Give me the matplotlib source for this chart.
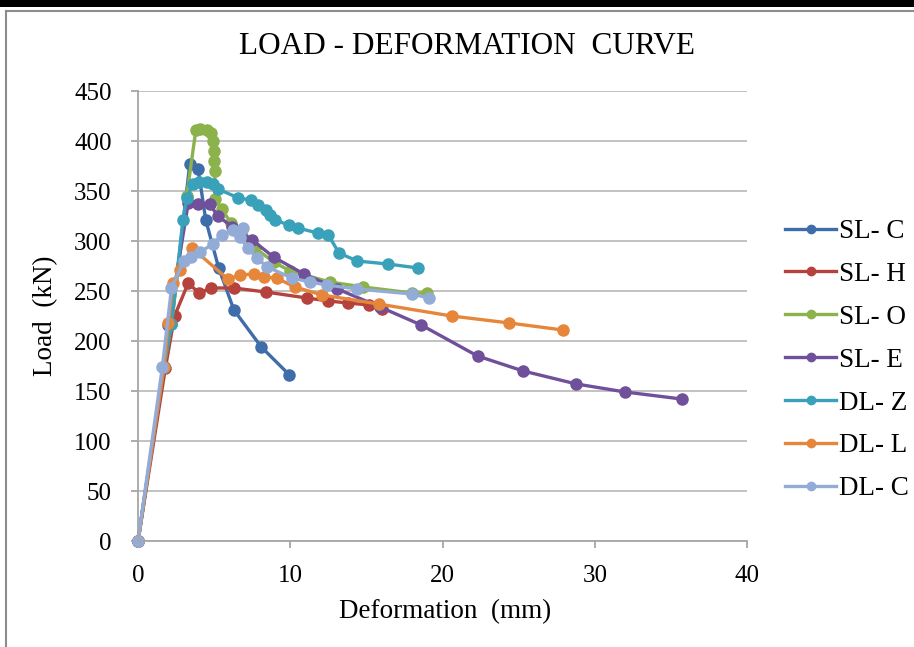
import matplotlib
matplotlib.use('Agg')
import matplotlib.pyplot as plt
from matplotlib.lines import Line2D
from matplotlib.patches import Rectangle

plt.rcParams['font.family'] = ['Liberation Serif', 'DejaVu Serif']

# 各试件的荷载-变形数据 (mm, kN)
series_names = ['SL- C', 'SL- H', 'SL- O', 'SL- E', 'DL- Z', 'DL- L', 'DL- C']

sl_c_x = [0, 1.7, 2.2, 3.4, 3.95, 4.45, 5.3, 6.3, 8.1, 9.95]
sl_c_y = [0, 174, 217, 377, 372, 321, 273, 231, 194, 166]

sl_h_x = [0, 1.8, 2.4, 3.3, 4.0, 4.8, 6.3, 8.4, 11.1, 12.5, 13.8, 15.2, 16.0]
sl_h_y = [0, 173, 225, 258, 248, 253, 253, 249, 243, 240, 238, 236, 232]

sl_o_x = [0, 1.7, 2.2, 3.2, 3.8, 4.1, 4.5, 4.8, 4.9, 5.0, 5.0, 5.05, 5.05,
          5.5, 6.1, 6.8, 7.7, 8.9, 10.0, 12.6, 14.8, 18.0, 19.0]
sl_o_y = [0, 174, 217, 345, 411, 412, 411, 408, 400, 390, 380, 370, 342,
          332, 318, 305, 293, 279, 270, 259, 254, 248, 248]

sl_e_x = [0, 1.7, 2.0, 3.3, 3.95, 4.7, 5.25, 6.2, 7.5, 8.9, 10.9, 13.1, 15.9,
          18.6, 22.3, 25.3, 28.8, 32.0, 35.7]
sl_e_y = [0, 174, 216, 338, 337, 337, 325, 314, 301, 284, 267, 252, 234,
          216, 185, 170, 157, 149, 142]

dl_z_x = [0, 1.7, 2.2, 2.95, 3.2, 3.6, 4.0, 4.5, 4.9, 5.25, 6.6, 7.4, 7.9, 8.4,
          8.7, 9.0, 9.9, 10.5, 11.8, 12.5, 13.2, 14.4, 16.4, 18.4]
dl_z_y = [0, 174, 217, 321, 343, 357, 359, 359, 357, 352, 343, 341, 336, 331,
          326, 321, 316, 313, 308, 306, 288, 280, 277, 273]

dl_l_x = [0, 1.7, 2.0, 2.3, 2.75, 3.55, 5.9, 6.7, 7.6, 8.3, 9.1, 10.3, 12.1,
          15.8, 20.6, 24.4, 27.9]
dl_l_y = [0, 174, 218, 258, 271, 293, 262, 266, 267, 264, 263, 254, 246,
          237, 225, 218, 211]

dl_c_x = [0, 1.6, 2.2, 3.0, 3.5, 4.1, 4.9, 5.5, 6.25, 6.9, 6.7, 7.2, 7.8, 8.5,
          10.1, 11.3, 12.4, 14.4, 18.0, 19.1]
dl_c_y = [0, 174, 253, 280, 284, 289, 297, 306, 311, 313, 304, 293, 283, 274,
          263, 259, 256, 252, 247, 243]

xs = [sl_c_x, sl_h_x, sl_o_x, sl_e_x, dl_z_x, dl_l_x, dl_c_x]
ys = [sl_c_y, sl_h_y, sl_o_y, sl_e_y, dl_z_y, dl_l_y, dl_c_y]
colors = ['#3F6DAA', '#B5423D', '#8CB24B', '#70509A', '#3AA1BB', '#E6863A', '#93ACD7']

fig = plt.figure(figsize=(9.14, 6.47), dpi=100)

# 顶部黑条和图表外框
fig.patches.append(Rectangle((0, 1 - 7 / 647), 1, 7 / 647, transform=fig.transFigure,
                             facecolor='black', edgecolor='none'))
fig.lines.append(Line2D([6 / 914, 6 / 914], [0, 1 - 11 / 647], transform=fig.transFigure,
                        color='#8C8C8C', lw=1.5))
fig.lines.append(Line2D([6 / 914, 1], [1 - 11 / 647, 1 - 11 / 647], transform=fig.transFigure,
                        color='#8C8C8C', lw=1.5))

ax = fig.add_axes([138 / 914, 1 - 541 / 647, (747 - 138) / 914, (541 - 91) / 647])

for name, x, y, c in zip(series_names, xs, ys, colors):
    ax.plot(x, y, color=c, lw=2.4, marker='o', markersize=8, label=name,
            solid_joinstyle='round', clip_on=False)

ax.set_xlim(0, 40)
ax.set_ylim(0, 450)
ax.set_xticks(range(0, 41, 10))
ax.set_yticks(range(0, 451, 50))
ax.yaxis.grid(True, color='#BDBDBD', lw=1.3)
ax.set_axisbelow(True)
for s in ['top', 'right']:
    ax.spines[s].set_visible(False)
for s in ['left', 'bottom']:
    ax.spines[s].set_color('#A6A6A6')
    ax.spines[s].set_linewidth(1.3)
ax.tick_params(axis='both', colors='#A6A6A6', length=5, width=1.3, labelsize=18,
               labelcolor='black')
ax.tick_params(axis='y', pad=14)
ax.tick_params(axis='x', pad=12)

fig.text(0.511, 1 - 46 / 647, 'LOAD - DEFORMATION  CURVE', ha='center', va='center',
         fontsize=22.5)
fig.text(445 / 914, 1 - 612 / 647, 'Deformation  (mm)', ha='center', va='center',
         fontsize=19.5)
fig.text(46 / 914, 1 - 316 / 647, 'Load  (kN)', ha='center', va='center',
         rotation=90, fontsize=19.5)

handles = [Line2D([0], [0], color=c, lw=2.4, marker='o', markersize=6) for c in colors]
fig.legend(handles, series_names, loc='upper left', bbox_to_anchor=(785 / 914, 1 - 219 / 647),
           frameon=False, fontsize=19.5, handlelength=1.9, handletextpad=0.1,
           labelspacing=0.66, borderaxespad=0, borderpad=0)

fig.savefig('out.png', dpi=100)
